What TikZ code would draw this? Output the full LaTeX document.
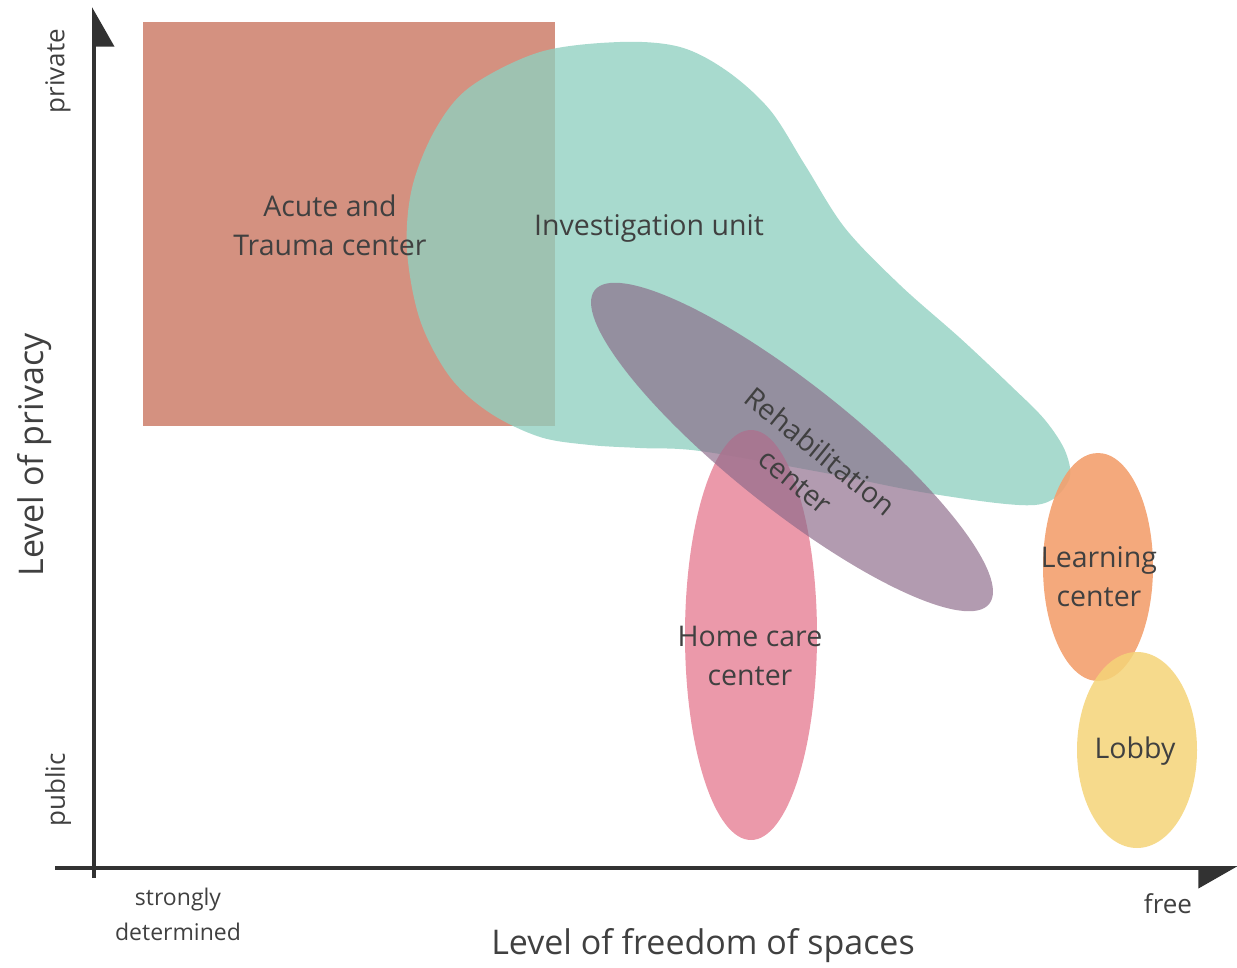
\documentclass[tikz,border=0pt]{standalone}
\usepackage{fontspec}
\setmainfont{Open Sans}
\usetikzlibrary{arrows.meta}
\definecolor{txtgray}{RGB}{64,64,64}
\definecolor{axisgray}{RGB}{50,50,50}
\definecolor{acutered}{RGB}{212,145,128}
\definecolor{investteal}{RGB}{143,208,192}
\definecolor{rehabpurple}{RGB}{140,106,137}
\definecolor{homepink}{RGB}{232,135,155}
\definecolor{learnorange}{RGB}{243,160,110}
\definecolor{lobbyyellow}{RGB}{245,212,120}
\tikzset{
  axis/.style={line width=4pt, draw=axisgray, -{Triangle[harpoon,swap,length=36pt,width=40pt]}},
  zone/.style={font=\fontsize{28.5}{39}\selectfont, text=txtgray, align=center},
  tick/.style={font=\fontsize{26}{35}\selectfont, text=txtgray, align=center},
  axlabel/.style={font=\fontsize{34}{40}\selectfont, text=txtgray}
}
\begin{document}
\begin{tikzpicture}[x=1pt,y=-1pt]
  \useasboundingbox (0,0) rectangle (1237,968);
  % areas
  \fill[acutered] (143,22) rectangle (555,426);
  \fill[investteal, opacity=.78] plot[smooth cycle, tension=.55] coordinates {
    (620,42) (680,47) (727,71) (770,110) (805,165) (845,228) (900,285)
    (960,338) (1010,385) (1045,420) (1066,453) (1068,482) (1035,505)
    (933,494) (820,472) (700,451) (640,448) (590,445) (540,437) (490,413)
    (450,377) (420,320) (407,250) (412,188) (435,130) (470,87) (540,52)};
  \fill[homepink, opacity=.85] (751,635) ellipse (66 and 205);
  \fill[rehabpurple, opacity=.67, rotate around={-38.5:(792,447)}] (792,447) ellipse (252 and 62);
  \fill[learnorange, opacity=.9] (1098,567) ellipse (55 and 114);
  \fill[lobbyyellow, opacity=.85] (1137,750) ellipse (60 and 98);
  % labels of the areas
  \node[zone] (acute) at (330,225) {Acute and\\Trauma center};
  \node[zone] (invest) at (649,228) {Investigation unit};
  \node[zone, rotate=-39] (rehab) at (808,466) {Rehabilitation\\center};
  \node[zone] (homecare) at (750,656) {Home care\\center};
  \node[zone] (learning) at (1099,577) {Learning\\center};
  \node[zone] (lobby) at (1135,751) {Lobby};
  % axes
  \coordinate (ybot) at (94,878);
  \coordinate (ytop) at (94,7);
  \coordinate (xleft) at (55,868);
  \coordinate (xright) at (1238,868);
  \draw[axis] (ybot) -- (ytop);
  \draw[axis] (xleft) -- (xright);
  \node[axlabel, rotate=90] (privacy) at (35,455) {Level of privacy};
  \node[axlabel] (freedom) at (703,946) {Level of freedom of spaces};
  \node[tick, rotate=90] (private) at (58,71) {private};
  \node[tick, rotate=90] (public) at (58,790) {public};
  \node[tick, font=\fontsize{23}{35}\selectfont] (strongly) at (178,914) {strongly\\determined};
  \node[tick] (free) at (1168,904) {free};
\end{tikzpicture}
\end{document}
